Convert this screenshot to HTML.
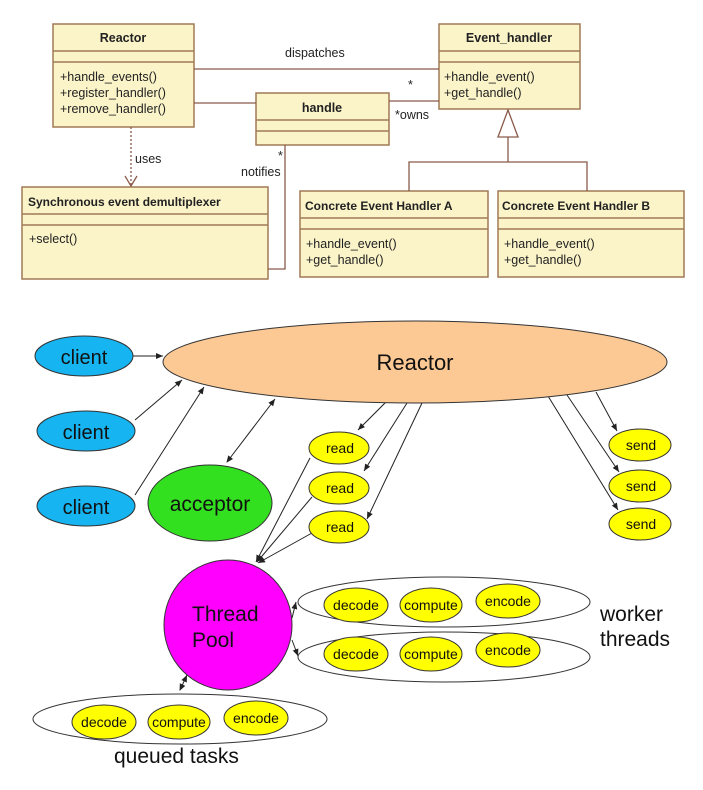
<!DOCTYPE html>
<html><head><meta charset="utf-8"><style>
html,body{margin:0;padding:0;background:#fff;}
svg{display:block;font-family:"Liberation Sans","DejaVu Sans",sans-serif;}
</style></head><body>
<svg width="703" height="790" viewBox="0 0 703 790" xmlns="http://www.w3.org/2000/svg">
<defs>
<marker id="a" markerWidth="8" markerHeight="8" refX="7" refY="4" orient="auto" markerUnits="userSpaceOnUse"><path d="M0,1 L7,4 L0,7 z" fill="#222"/></marker>
<marker id="as" markerWidth="8" markerHeight="8" refX="1" refY="4" orient="auto" markerUnits="userSpaceOnUse"><path d="M7,1 L0,4 L7,7 z" fill="#222"/></marker>
</defs>
<g stroke="#a07a55" stroke-width="1.5" fill="#fbf4c9">
<rect x="53" y="24" width="141" height="103"/><line x1="53" y1="51" x2="194" y2="51"/><line x1="53" y1="62" x2="194" y2="62"/>
<rect x="439" y="24" width="141" height="85"/><line x1="439" y1="51" x2="580" y2="51"/><line x1="439" y1="62" x2="580" y2="62"/>
<rect x="256" y="93" width="133" height="52"/><line x1="256" y1="120" x2="389" y2="120"/><line x1="256" y1="131" x2="389" y2="131"/>
<rect x="22" y="187" width="246" height="92"/><line x1="22" y1="214" x2="268" y2="214"/><line x1="22" y1="225" x2="268" y2="225"/>
<rect x="300" y="191" width="188" height="86"/><line x1="300" y1="218" x2="488" y2="218"/><line x1="300" y1="229" x2="488" y2="229"/>
<rect x="498" y="191" width="186" height="86"/><line x1="498" y1="218" x2="684" y2="218"/><line x1="498" y1="229" x2="684" y2="229"/>
</g>
<g stroke="#8a5a4a" stroke-width="1.3" fill="none">
<line x1="194" y1="69" x2="439" y2="69"/>
<line x1="389" y1="101" x2="439" y2="101"/>
<line x1="194" y1="103" x2="256" y2="103"/>
<line x1="131" y1="127" x2="131" y2="186" stroke-dasharray="2,2"/>
<path d="M125,176 L131,186 L137,176"/>
<path d="M285,145 L285,269 L268,269"/>
<path d="M508,110 L498,137 L518,137 Z" fill="#fff"/>
<path d="M508,137 L508,162 M409,191 L409,162 L587,162 L587,191"/>
</g>
<g font-size="12.5" fill="#222">
<text x="123" y="42" text-anchor="middle" font-weight="bold">Reactor</text>
<text x="509" y="42" text-anchor="middle" font-weight="bold">Event_handler</text>
<text x="322" y="112" text-anchor="middle" font-weight="bold">handle</text>
<text x="28" y="206" font-weight="bold" font-size="12">Synchronous event demultiplexer</text>
<text x="305" y="210" font-weight="bold" font-size="12">Concrete Event Handler A</text>
<text x="502" y="210" font-weight="bold" font-size="12">Concrete Event Handler B</text>
<text x="60" y="81">+handle_events()</text><text x="60" y="97">+register_handler()</text><text x="60" y="113">+remove_handler()</text>
<text x="444" y="81">+handle_event()</text><text x="444" y="97">+get_handle()</text>
<text x="29" y="243">+select()</text>
<text x="306" y="248">+handle_event()</text><text x="306" y="264">+get_handle()</text>
<text x="504" y="248">+handle_event()</text><text x="504" y="264">+get_handle()</text>
<text x="285" y="57">dispatches</text>
<text x="408" y="89">*</text><text x="395" y="119">*owns</text>
<text x="135" y="163">uses</text>
<text x="278" y="160">*</text><text x="241" y="176">notifies</text>
</g>
<g stroke="#222" stroke-width="1" fill="none">
<line x1="128" y1="356" x2="163" y2="356" marker-end="url(#a)"/>
<line x1="135" y1="420" x2="182" y2="380" marker-end="url(#a)"/>
<line x1="135" y1="495" x2="204" y2="387" marker-end="url(#a)"/>
<line x1="227" y1="462" x2="275" y2="399" marker-end="url(#a)" marker-start="url(#as)"/>
<line x1="386" y1="402" x2="358" y2="430" marker-end="url(#a)"/>
<line x1="407" y1="403" x2="364" y2="471" marker-end="url(#a)"/>
<line x1="422" y1="403" x2="367" y2="519" marker-end="url(#a)"/>
<line x1="310" y1="458" x2="256" y2="562" marker-end="url(#a)"/>
<line x1="312" y1="497" x2="257" y2="562" marker-end="url(#a)"/>
<line x1="312" y1="533" x2="258" y2="563" marker-end="url(#a)"/>
<line x1="548" y1="396" x2="618" y2="510" marker-end="url(#a)"/>
<line x1="567" y1="395" x2="619" y2="472" marker-end="url(#a)"/>
<line x1="596" y1="392" x2="617" y2="431" marker-end="url(#a)"/>
<line x1="292" y1="618" x2="296" y2="602" marker-end="url(#a)"/>
<line x1="292" y1="640" x2="298" y2="656" marker-end="url(#a)"/>
<line x1="180" y1="690" x2="187" y2="675" marker-end="url(#a)" marker-start="url(#as)"/>
</g>
<g stroke="#333" stroke-width="1">
<ellipse cx="415" cy="362" rx="252" ry="41" fill="#fcc995"/>
<ellipse cx="84" cy="356" rx="49" ry="20" fill="#16b4f0"/>
<ellipse cx="86" cy="431" rx="49" ry="20" fill="#16b4f0"/>
<ellipse cx="86" cy="506" rx="49" ry="20" fill="#16b4f0"/>
<ellipse cx="210" cy="503" rx="62" ry="38" fill="#33e020"/>
<ellipse cx="339" cy="448" rx="30" ry="16" fill="#ffff00"/>
<ellipse cx="339" cy="488" rx="30" ry="16" fill="#ffff00"/>
<ellipse cx="339" cy="527" rx="30" ry="16" fill="#ffff00"/>
<ellipse cx="640" cy="445" rx="31" ry="16" fill="#ffff00"/>
<ellipse cx="640" cy="486" rx="31" ry="16" fill="#ffff00"/>
<ellipse cx="640" cy="524" rx="31" ry="16" fill="#ffff00"/>
<ellipse cx="228" cy="625" rx="64" ry="65" fill="#ff00ff"/>
<ellipse cx="444" cy="602" rx="146" ry="25" fill="none"/>
<ellipse cx="444" cy="657" rx="146" ry="25" fill="none"/>
<ellipse cx="180" cy="719" rx="147" ry="25" fill="none"/>
<g fill="#ffff00">
<ellipse cx="356" cy="605" rx="32" ry="17"/><ellipse cx="431" cy="605" rx="31" ry="17"/><ellipse cx="508" cy="601" rx="32" ry="17"/>
<ellipse cx="356" cy="654" rx="32" ry="17"/><ellipse cx="431" cy="654" rx="31" ry="17"/><ellipse cx="508" cy="650" rx="32" ry="17"/>
<ellipse cx="104" cy="722" rx="32" ry="17"/><ellipse cx="179" cy="722" rx="31" ry="17"/><ellipse cx="256" cy="718" rx="32" ry="17"/>
</g>
</g>
<g fill="#111" text-anchor="middle">
<text x="415" y="370" font-size="22">Reactor</text>
<text x="84" y="364" font-size="20">client</text>
<text x="86" y="439" font-size="20">client</text>
<text x="86" y="514" font-size="20">client</text>
<text x="210" y="511" font-size="21">acceptor</text>
<g font-size="14"><text x="340" y="453">read</text><text x="340" y="493">read</text><text x="340" y="532">read</text>
<text x="641" y="450">send</text><text x="641" y="491">send</text><text x="641" y="529">send</text></g>
<g font-size="14"><text x="356" y="610">decode</text><text x="431" y="610">compute</text><text x="508" y="606">encode</text>
<text x="356" y="659">decode</text><text x="431" y="659">compute</text><text x="508" y="655">encode</text>
<text x="104" y="727">decode</text><text x="179" y="727">compute</text><text x="256" y="723">encode</text></g>
</g>
<g fill="#111" font-size="21">
<text x="192" y="621">Thread</text><text x="192" y="647">Pool</text>
<text x="600" y="621">worker</text><text x="600" y="646">threads</text>
<text x="114" y="763">queued tasks</text>
</g>
</svg>
</body></html>
